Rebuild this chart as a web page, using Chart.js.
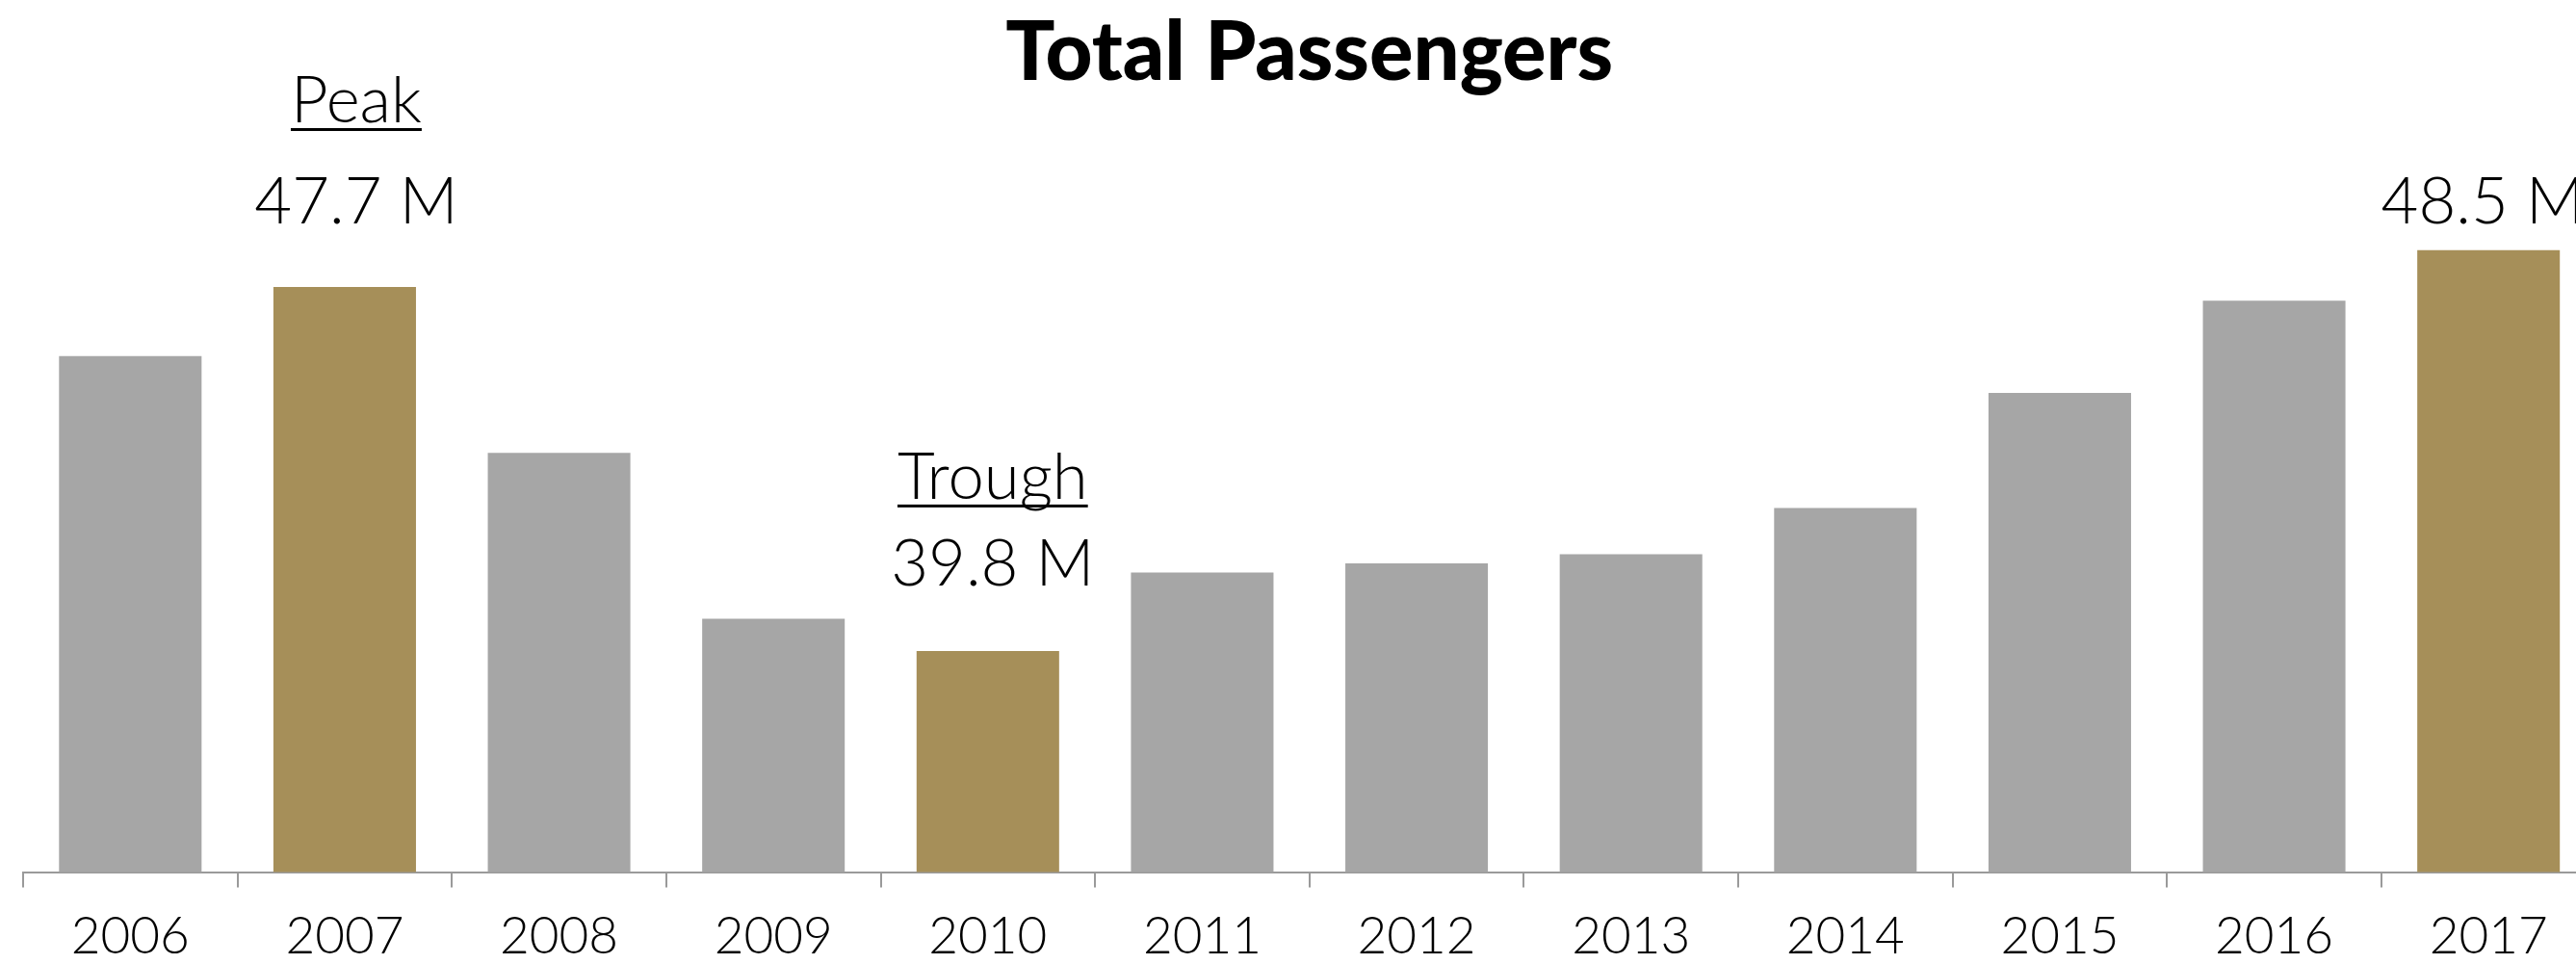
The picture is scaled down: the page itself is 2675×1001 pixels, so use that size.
<!DOCTYPE html>
<html>
<head>
<meta charset="utf-8">
<title>Total Passengers</title>
<script src="https://cdn.jsdelivr.net/npm/chart.js@4.4.1/dist/chart.umd.min.js"></script>
<style>
  html, body { margin: 0; padding: 0; background: #fff; overflow: hidden; }
  #wrap { width: 2697px; height: 1001px; }
  canvas { display: block; }
</style>
</head>
<body>
<div id="wrap"><canvas id="passengers" width="2697" height="1001"></canvas></div>
<script>
// yearly passenger totals, in millions
var years = ['2006', '2007', '2008', '2009', '2010', '2011', '2012', '2013', '2014', '2015', '2016', '2017'];
var passengers = [46.2, 47.7, 44.1, 40.5, 39.8, 41.5, 41.7, 41.9, 42.9, 45.4, 47.4, 48.5];
var highlightYears = ['2007', '2010', '2017'];
var calloutYears = ['2007', '2010', '2017'];
var calloutHeadings = ['Peak', 'Trough', ''];
var yMin = 35;
var yMax = 50;

var GREY = '#a6a6a6';
var GOLD = '#a68f59';
var AXIS = '#9a9a9a';
var FONT = 'Lato, "Noto Sans", sans-serif';

// offsets for each callout: [dx, value lift above bar, heading lift above bar]
var calloutPlace = {
    '2007': [12, 66, 171],
    '2010': [5, 68, 158],
    '2017': [-6, 28, 0]
};

var calloutPlugin = {
    id: 'callouts',
    afterDatasetsDraw: function (chart) {
        var ctx = chart.ctx;
        var bars = chart.getDatasetMeta(0).data;
        ctx.save();
        ctx.fillStyle = '#000';
        ctx.textAlign = 'center';
        ctx.textBaseline = 'alphabetic';
        ctx.font = '300 67px ' + FONT;
        for (var k = 0; k < calloutYears.length; k++) {
            var i = years.indexOf(calloutYears[k]);
            var bar = bars[i];
            var p = calloutPlace[calloutYears[k]];
            var x = bar.x + p[0];
            ctx.fillText(passengers[i].toFixed(1) + ' M', x, bar.y - p[1]);
            if (calloutHeadings[k]) {
                var y = bar.y - p[2];
                var w = ctx.measureText(calloutHeadings[k]).width;
                ctx.fillText(calloutHeadings[k], x, y);
                ctx.fillRect(x - w / 2, y + 6, w, 3);
            }
        }
        ctx.restore();
    }
};

new Chart(document.getElementById('passengers'), {
    type: 'bar',
    data: {
        labels: years,
        datasets: [{
            label: 'Total Passengers',
            data: passengers,
            backgroundColor: years.map(function (y) {
                return highlightYears.indexOf(y) >= 0 ? GOLD : GREY;
            }),
            borderWidth: 0,
            categoryPercentage: 1,
            barPercentage: 0.665
        }]
    },
    options: {
        responsive: false,
        animation: false,
        devicePixelRatio: 1,
        layout: { padding: { left: 24, right: 1.5, top: 0, bottom: 0 } },
        plugins: {
            legend: { display: false },
            tooltip: { enabled: false },
            title: {
                display: true,
                text: 'Total Passengers',
                color: '#000',
                font: { family: FONT, size: 85, weight: 900, lineHeight: 1.2 },
                padding: { top: 5, bottom: 81 }
            }
        },
        scales: {
            y: { display: false, min: yMin, max: yMax },
            x: {
                border: { display: true, color: AXIS, width: 2 },
                grid: {
                    display: true,
                    offset: true,
                    drawOnChartArea: false,
                    drawTicks: true,
                    tickLength: 16,
                    color: AXIS,
                    lineWidth: 2
                },
                ticks: {
                    color: '#000',
                    font: { family: FONT, size: 53, weight: 300 },
                    padding: 20
                },
                afterFit: function (scale) {
                    scale.height = 95.5;
                }
            }
        }
    },
    plugins: [calloutPlugin]
});
</script>
</body>
</html>
